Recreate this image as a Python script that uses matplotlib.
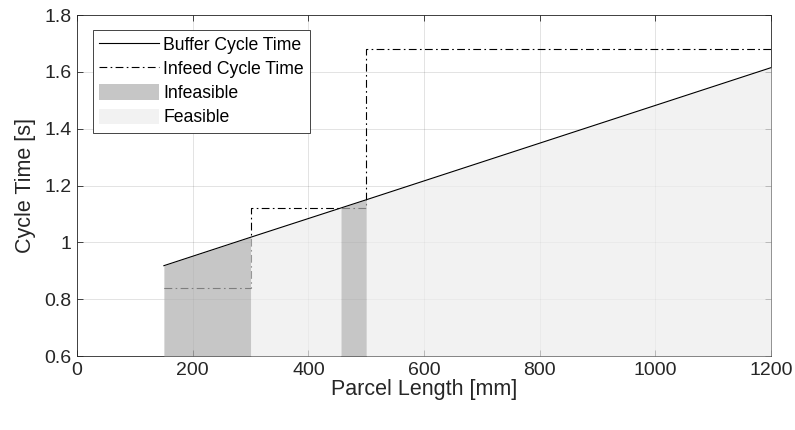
"""Buffer vs infeed cycle time with feasible / infeasible regions."""
import numpy as np
import matplotlib.pyplot as plt

plt.rcParams.update({"font.family": ["Liberation Sans", "DejaVu Sans"], "font.size": 11})

# buffer cycle time (straight line, read at region boundaries)
buf_x = [150, 300, 456, 500, 1200]
buf_y = [0.918, 1.018, 1.121, 1.150, 1.615]

# infeed cycle time (step function)
inf_x = [150, 300, 300, 500, 500, 1200]
inf_y = [0.84, 0.84, 1.12, 1.12, 1.68, 1.68]

# region boundaries: index pairs into buf_x
infeasible = [(0, 1), (2, 3)]
feasible = [(1, 2), (3, 4)]

fig = plt.figure(figsize=(7.95, 4.3), dpi=100)
ax = fig.add_axes([0.097, 0.172, 0.873, 0.793])

ax.plot(inf_x, inf_y, color="black", lw=0.8, ls=(0, (7, 3, 1.5, 3)), zorder=2,
        label="Infeed Cycle Time")
for i, (a, b) in enumerate(infeasible):
    ax.fill_between(buf_x[a:b + 1], 0.6, buf_y[a:b + 1], color="0.69", alpha=0.72,
                    lw=0, zorder=3, label="Infeasible" if i == 0 else None)
for i, (a, b) in enumerate(feasible):
    ax.fill_between(buf_x[a:b + 1], 0.6, buf_y[a:b + 1], color="0.93", alpha=0.7,
                    lw=0, zorder=3, label="Feasible" if i == 0 else None)
ax.plot(buf_x, buf_y, color="black", lw=0.8, zorder=4, label="Buffer Cycle Time")

ax.set_xlim(0, 1200)
ax.set_ylim(0.6, 1.8)
ax.set_xticks(np.arange(0, 1201, 200))
ax.set_yticks([0.6, 0.8, 1.0, 1.2, 1.4, 1.6, 1.8])
ax.set_yticklabels(["0.6", "0.8", "1", "1.2", "1.4", "1.6", "1.8"])
ax.grid(True, color="#262626", alpha=0.15, lw=0.6, zorder=5)
ax.set_axisbelow(False)
ax.tick_params(direction="in", top=True, right=True, length=4, width=0.6,
               colors="#262626", labelsize=14, labelcolor="#262626", pad=4)
for s in ax.spines.values():
    s.set_color("#262626")
    s.set_linewidth(0.6)
ax.set_xlabel("Parcel Length [mm]", fontsize=15.5, color="#262626", labelpad=0)
ax.set_ylabel("Cycle Time [s]", fontsize=15.5, color="#262626", labelpad=6)

h, l = ax.get_legend_handles_labels()
order = [l.index(n) for n in ["Buffer Cycle Time", "Infeed Cycle Time", "Infeasible", "Feasible"]]
leg = ax.legend([h[i] for i in order], [l[i] for i in order], loc="upper left",
                bbox_to_anchor=(0.023, 0.956), fancybox=False, framealpha=1,
                edgecolor="#262626", fontsize=12.7, handlelength=3.4, handleheight=1.0,
                handletextpad=0.23, borderpad=0.35, labelspacing=0.35, borderaxespad=0)
leg.get_frame().set_linewidth(0.6)

fig.savefig("out.png", dpi=100)
